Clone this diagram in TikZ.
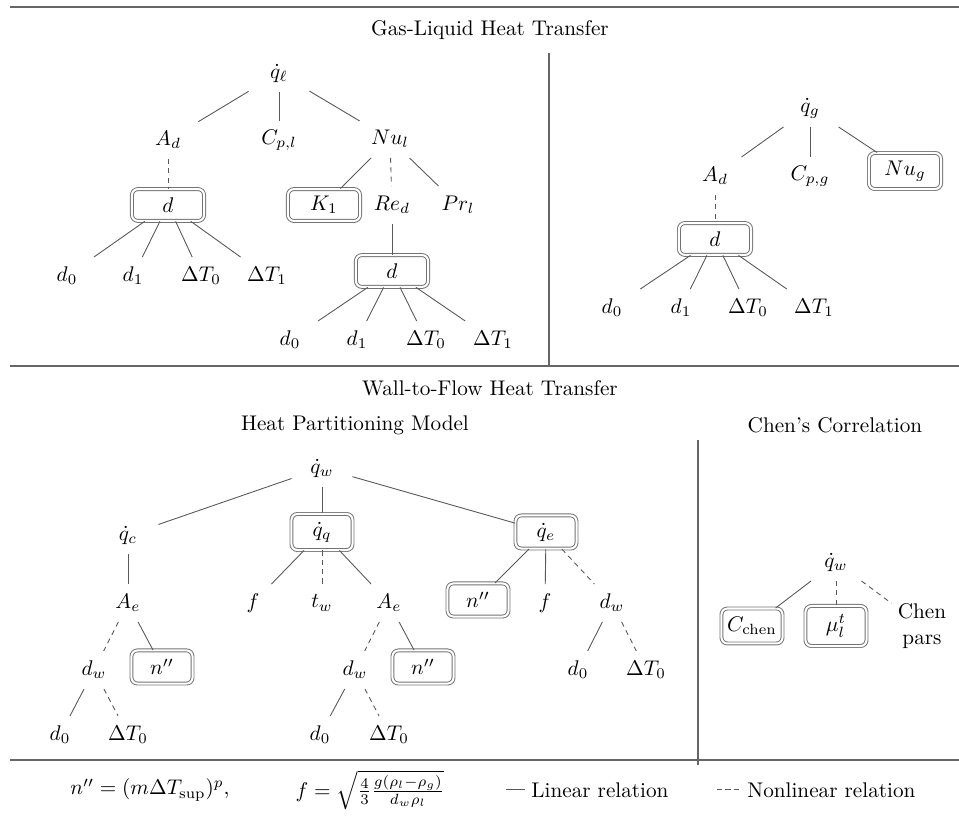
\documentclass[tikz,border=0pt]{standalone}
\usepackage{amsmath}
\begin{document}
\begin{tikzpicture}[x=0.4717pt,y=-0.4717pt,
  tn/.style={inner sep=0pt, minimum width=28.3pt, minimum height=17.5pt},
  bx/.style={draw=black!55, double=white, double distance=0.95pt, line width=0.45pt,
    rounded corners=2.8pt, inner sep=0pt, minimum width=28.8pt, minimum height=15.6pt},
  wbx/.style={bx, minimum width=34pt, minimum height=15pt},
  lin/.style={draw=black!65, line width=0.42pt},
  nlin/.style={lin, dash pattern=on 2.4pt off 2pt},
  frame/.style={draw=black!60, line width=0.7pt},
  ttl/.style={inner sep=0pt}]
\useasboundingbox (0,0) rectangle (959,819);

% ---------- frame ----------
\coordinate (t0) at (10,7);    \coordinate (t1) at (959,7);
\coordinate (m0) at (10,366);  \coordinate (m1) at (959,366);
\coordinate (b0) at (10,760);  \coordinate (b1) at (959,760);
\coordinate (v0) at (549,53);  \coordinate (v1) at (549,366);
\coordinate (w0) at (698,440); \coordinate (w1) at (698,765);
\draw[frame] (t0) -- (t1);
\draw[frame] (m0) -- (m1);
\draw[frame] (b0) -- (b1);
\draw[frame] (v0) -- (v1);
\draw[frame] (w0) -- (w1);

% ---------- titles ----------
\node[ttl] (tgl) at (490,30) {Gas-Liquid Heat Transfer};
\node[ttl] (twf) at (490,388) {Wall-to-Flow Heat Transfer};
\node[ttl] (thp) at (355,425) {Heat Partitioning Model};
\node[ttl] (tch) at (835,425) {Chen's Correlation};

% ---------- liquid side ----------
\node[tn] (ql)  at (279,73)  {$\dot q_\ell$};
\node[tn] (AdL) at (168,140) {$A_d$};
\node[tn] (Cpl) at (279,140) {$C_{p,l}$};
\node[tn] (Nul) at (390,139) {$Nu_l$};
\node[wbx] (dL) at (168,205) {$d$};
\node[tn] (d0a) at (67,276)  {$d_0$};
\node[tn] (d1a) at (133,276) {$d_1$};
\node[tn] (T0a) at (201,276) {$\Delta T_0$};
\node[tn] (T1a) at (267,276) {$\Delta T_1$};
\node[wbx] (K1) at (324,205) {$K_1$};
\node[tn] (Red) at (392,205) {$Re_d$};
\node[tn] (Prl) at (458,205) {$Pr_l$};
\node[wbx] (dR) at (392,271) {$d$};
\node[tn] (d0b) at (290,340) {$d_0$};
\node[tn] (d1b) at (357,340) {$d_1$};
\node[tn] (T0b) at (426,340) {$\Delta T_0$};
\node[tn] (T1b) at (493,340) {$\Delta T_1$};

\draw[lin] (ql) -- (AdL);
\draw[lin] (ql) -- (Cpl);
\draw[lin] (ql) -- (Nul);
\draw[nlin] (AdL) -- (dL);
\foreach \c in {d0a,d1a,T0a,T1a} \draw[lin] (dL) -- (\c);
\draw[lin] (Nul) -- (K1);
\draw[nlin] (Nul) -- (Red);
\draw[lin] (Nul) -- (Prl);
\draw[lin] (Red) -- (dR);
\foreach \c in {d0b,d1b,T0b,T1b} \draw[lin] (dR) -- (\c);

% ---------- gas side ----------
\node[tn] (qg)  at (810,108) {$\dot q_g$};
\node[tn] (AdR) at (715,176) {$A_d$};
\node[tn] (Cpg) at (810,176) {$C_{p,g}$};
\node[wbx, minimum height=17pt] (Nug) at (905,171) {$Nu_g$};
\node[wbx] (dG) at (715,239) {$d$};
\node[tn] (d0c) at (612,308) {$d_0$};
\node[tn] (d1c) at (681,308) {$d_1$};
\node[tn] (T0c) at (748,308) {$\Delta T_0$};
\node[tn] (T1c) at (814,308) {$\Delta T_1$};

\draw[lin] (qg) -- (AdR);
\draw[lin] (qg) -- (Cpg);
\draw[lin] (qg) -- (Nug);
\draw[nlin] (AdR) -- (dG);
\foreach \c in {d0c,d1c,T0c,T1c} \draw[lin] (dG) -- (\c);

% ---------- heat partitioning model ----------
\node[tn] (qw)  at (322,468) {$\dot q_w$};
\node[tn] (qc)  at (128,535) {$\dot q_c$};
\node[bx, minimum height=17pt] (qq) at (322,532) {$\dot q_q$};
\node[bx] (qe)  at (546,532) {$\dot q_e$};

\node[tn] (Ae1) at (128,603) {$A_e$};
\node[tn] (dw1) at (94,670)  {$d_w$};
\node[bx] (n1)  at (162,667) {$n''$};
\node[tn] (d0d) at (60,735)  {$d_0$};
\node[tn] (T0d) at (128,735) {$\Delta T_0$};

\node[tn] (f1)  at (253,603) {$f$};
\node[tn] (tw)  at (322,603) {$t_w$};
\node[tn] (Ae2) at (389,603) {$A_e$};
\node[tn] (dw2) at (355,670) {$d_w$};
\node[bx] (n2)  at (423,667) {$n''$};
\node[tn] (d0e) at (320,735) {$d_0$};
\node[tn] (T0e) at (389,735) {$\Delta T_0$};

\node[bx] (n3)  at (478,600) {$n''$};
\node[tn] (f2)  at (545,603) {$f$};
\node[tn] (dw3) at (612,603) {$d_w$};
\node[tn] (d0f) at (578,670) {$d_0$};
\node[tn] (T0f) at (646,670) {$\Delta T_0$};

\draw[lin] (qw) -- (qc);
\draw[lin] (qw) -- (qq);
\draw[lin] (qw) -- (qe);
\draw[lin] (qc) -- (Ae1);
\draw[nlin] (Ae1) -- (dw1);
\draw[lin] (Ae1) -- (n1);
\draw[lin] (dw1) -- (d0d);
\draw[nlin] (dw1) -- (T0d);
\draw[lin] (qq) -- (f1);
\draw[nlin] (qq) -- (tw);
\draw[lin] (qq) -- (Ae2);
\draw[nlin] (Ae2) -- (dw2);
\draw[lin] (Ae2) -- (n2);
\draw[lin] (dw2) -- (d0e);
\draw[nlin] (dw2) -- (T0e);
\draw[lin] (qe) -- (n3);
\draw[lin] (qe) -- (f2);
\draw[nlin] (qe) -- (dw3);
\draw[lin] (dw3) -- (d0f);
\draw[nlin] (dw3) -- (T0f);

% ---------- Chen's correlation ----------
\node[tn] (qwc) at (836,562) {$\dot q_w$};
\node[bx, minimum height=16.5pt] (Cch) at (752,626) {$C_{\mathrm{chen}}$};
\node[bx, minimum height=18.9pt] (mu) at (836,626) {$\mu_l^t$};
\node[tn, align=center] (Chp) at (922,626) {Chen\\pars};
\draw[lin] (qwc) -- (Cch);
\draw[nlin] (qwc) -- (mu);
\draw[nlin] (qwc) -- (Chp);

% ---------- legend ----------
\node[ttl] (nf) at (150,790) {$n'' = (m\Delta T_{\mathrm{sup}})^p,$};
\node[ttl] (ff) at (370,790) {$f = \sqrt{\frac{4}{3}\frac{g(\rho_l-\rho_g)}{d_w\rho_l}}$};
\coordinate (la) at (506,789); \coordinate (lb) at (525,789);
\draw[lin] (la) -- (lb);
\node[ttl, anchor=west] (ll) at (531,790) {Linear relation};
\coordinate (na) at (717,789); \coordinate (nb) at (742,789);
\draw[lin, dash pattern=on 2.4pt off 1.6pt] (na) -- (nb);
\node[ttl, anchor=west] (nl) at (747,790) {Nonlinear relation};
\end{tikzpicture}
\end{document}
